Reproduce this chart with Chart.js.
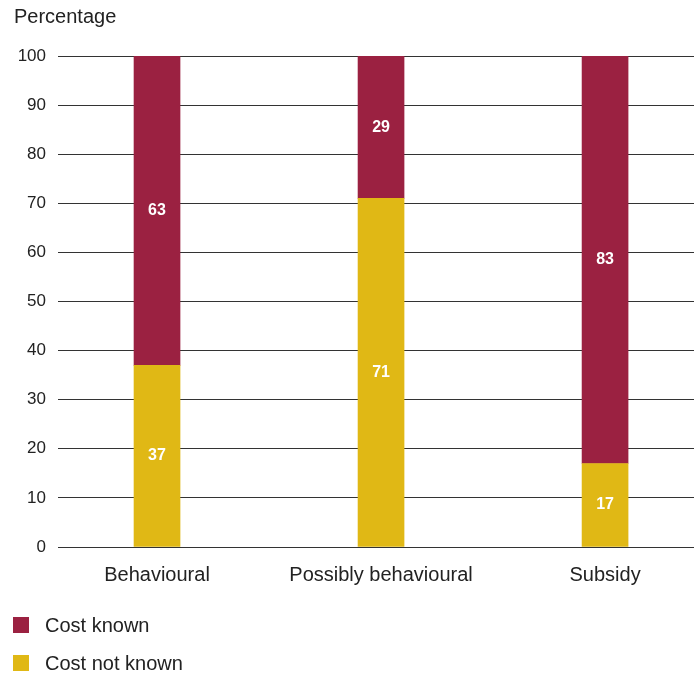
<!DOCTYPE html>
<html>
<head>
<meta charset="utf-8">
<script src="https://cdn.jsdelivr.net/npm/chart.js@4/dist/chart.umd.min.js"></script>
<style>
  html, body { margin: 0; padding: 0; background: #fff; }
  #wrap { position: relative; width: 694px; height: 677px; }
  #legend { position: absolute; left: 13px; top: 606px; font-family: "Liberation Sans", Arial, sans-serif; font-size: 20px; color: #222; }
  .item { display: flex; align-items: center; height: 38px; }
  .box { width: 16px; height: 16px; margin-right: 16px; }
</style>
</head>
<body>
<div id="wrap">
  <canvas id="chart" width="694" height="677"></canvas>
  <div id="legend"></div>
</div>
<script>
// Share of measures by whether cost is known
const categories = ["Behavioural", "Possibly behavioural", "Subsidy"];
const costNotKnown = [37, 71, 17];
const costKnown = [63, 29, 83];
const yTicks = [0, 10, 20, 30, 40, 50, 60, 70, 80, 90, 100];

const RED = "#9b2141";
const YELLOW = "#e0b815";
const FONT = "'Liberation Sans', Arial, sans-serif";

// white value written in the middle of each bar segment
const barLabels = {
	id: "barLabels",
	afterDatasetsDraw(chart) {
		const ctx = chart.ctx;
		ctx.save();
		ctx.fillStyle = "#fff";
		ctx.font = "bold 16px " + FONT;
		ctx.textAlign = "center";
		ctx.textBaseline = "middle";
		chart.data.datasets.forEach((ds, i) => {
			chart.getDatasetMeta(i).data.forEach((bar, j) => {
				ctx.fillText(ds.data[j].y, bar.x, (bar.y + bar.base) / 2);
			});
		});
		ctx.restore();
	}
};

const toPoints = arr => arr.map((v, i) => ({ x: i, y: v }));

const chart = new Chart(document.getElementById("chart"), {
	type: "bar",
	data: {
		datasets: [
			{ label: "Cost not known", data: toPoints(costNotKnown), backgroundColor: YELLOW, barThickness: 46 },
			{ label: "Cost known", data: toPoints(costKnown), backgroundColor: RED, barThickness: 46 }
		]
	},
	options: {
		responsive: false,
		animation: false,
		layout: { padding: { left: 14, right: 0, top: 0, bottom: 0 } },
		scales: {
			x: {
				type: "linear",
				stacked: true,
				offset: false,
				min: -0.442,
				max: 2.397,
				afterFit: s => { s.height = 130; },
				grid: { display: false, offset: false },
				border: { display: false },
				ticks: {
					stepSize: 1,
					includeBounds: false,
					padding: 8,
					color: "#222",
					font: { family: FONT, size: 20 },
					callback: v => categories[v] ?? ""
				}
			},
			y: {
				stacked: true,
				min: 0,
				max: 100,
				afterFit: s => { s.width = 44; },
				afterBuildTicks: s => { s.ticks = yTicks.map(v => ({ value: v })); },
				border: { display: false },
				grid: { color: "#333", lineWidth: 1, drawTicks: false },
				ticks: {
					padding: 12,
					color: "#222",
					font: { family: FONT, size: 17 }
				}
			}
		},
		plugins: {
			legend: { display: false },
			tooltip: { enabled: false },
			title: {
				display: true,
				text: "Percentage",
				align: "start",
				color: "#222",
				font: { family: FONT, size: 20, weight: "normal" },
				padding: { top: 5, bottom: 27 }
			}
		}
	},
	plugins: [barLabels]
});

// legend lists the top segment first
const legend = document.getElementById("legend");
chart.data.datasets.slice().reverse().forEach(ds => {
	const item = document.createElement("div");
	item.className = "item";
	item.innerHTML = `<span class="box" style="background:${ds.backgroundColor}"></span><span>${ds.label}</span>`;
	legend.appendChild(item);
});
</script>
</body>
</html>
